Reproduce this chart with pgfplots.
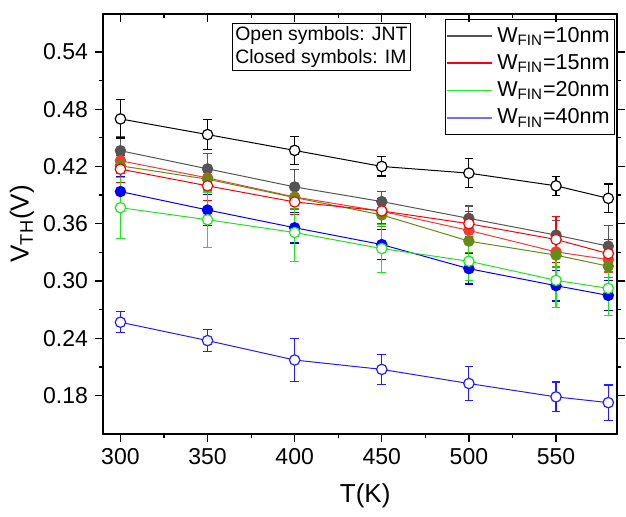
\documentclass[border=0pt]{standalone}
\usepackage{pgfplots}
\pgfplotsset{compat=1.18}
\usepackage{fontspec}
\setmainfont{Liberation Sans}
\definecolor{imgray}{RGB}{85,85,85}
\definecolor{imred}{RGB}{240,60,50}
\definecolor{jgreen}{RGB}{30,230,30}
\definecolor{olive2}{RGB}{100,140,20}
\definecolor{jblue}{RGB}{30,30,255}
\definecolor{lblue}{RGB}{110,110,255}
\definecolor{lgred}{RGB}{255,0,0}
\definecolor{lggreen}{RGB}{40,235,40}
\begin{document}
\begin{tikzpicture}
\pgfplotsset{
  every axis/.append style={
    width=257pt, height=210pt, scale only axis,
    xmin=290, xmax=585, ymin=0.14, ymax=0.58,
  },
  ebars/.style={error bars/y dir=both, error bars/y explicit,
    error bars/error bar style={line width=0.55pt},
    error bars/error mark options={rotate=90, mark size=2.2pt, line width=0.55pt}},
  im/.style={line width=0.5pt, mark=*, mark size=2.6pt, mark options={solid, line width=0.5pt}, ebars},
  jnt/.style={line width=0.5pt, mark=*, mark size=2.6pt, mark options={solid, fill=white, line width=0.6pt}, ebars},
  lgline/.style={legend image code/.code={\draw[draw=#1, line width=0.9pt] (0cm,0cm) -- (0.8cm,0cm);}},
}
\begin{axis}[name=ax,
  axis line style={line width=0.8pt},
  tick align=outside,
  xtick pos=left, ytick pos=both,
  major tick length=4pt, minor tick length=2.2pt,
  every tick/.style={black, line width=0.6pt},
  xtick={300,350,...,550},
  ytick={0.18,0.24,...,0.55},
  minor x tick num=1, minor y tick num=1,
  yticklabel style={/pgf/number format/.cd, fixed, fixed zerofill, precision=2, assume math mode=true},
  xticklabel style={/pgf/number format/assume math mode=true},
  ticklabel style={font=\fontsize{11.5}{13}\selectfont},
  yticklabel pos=left,
  xlabel={T(K)}, ylabel={V\textsubscript{TH}(V)},
  label style={font=\fontsize{13}{15}\selectfont},
  xlabel style={at={(axis description cs:0.51,-0.148)}, anchor=center},
  ylabel style={at={(axis description cs:-0.158,0.5)}, anchor=center},
  legend style={at={(axis description cs:0.996,0.988)}, anchor=north east,
    font=\fontsize{10.8}{13}\selectfont,
    row sep=0.6pt, inner xsep=0.4pt, inner ysep=2pt, cells={anchor=west, inner xsep=0.8pt}},
  legend cell align=left,
]
% IM (closed symbols)
\addplot[im, imgray, forget plot] table[y error=e] {
x y e
300 0.4365 0.015
350 0.4175 0.016
400 0.3986 0.018
450 0.3832 0.011
500 0.3656 0.013
550 0.3481 0.015
580 0.3365 0.022
};
\addplot[im, imred, forget plot] table[y error=e] {
x y e
300 0.4260 0.013
350 0.4080 0.013
400 0.3880 0.013
450 0.3730 0.013
500 0.3530 0.013
550 0.3305 0.016
580 0.3224 0.013
};
\addplot[im, olive2, forget plot] table[y error=e] {
x y e
300 0.4207 0.012
350 0.4066 0.012
400 0.3874 0.012
450 0.3692 0.012
500 0.3418 0.012
550 0.3271 0.012
580 0.3155 0.012
};
\addplot[im, blue, forget plot] table[y error=e] {
x y e
300 0.3937 0.016
350 0.3744 0.016
400 0.3558 0.016
450 0.3382 0.016
500 0.3129 0.016
550 0.2951 0.016
580 0.2849 0.016
};
% JNT (open symbols)
\addplot[jnt, black, forget plot] table[y error=e] {
x y e
300 0.4698 0.020
350 0.4534 0.0155
400 0.4368 0.015
450 0.4200 0.010
500 0.4130 0.015
550 0.3997 0.010
580 0.3866 0.015
};
\addplot[jnt, red, forget plot] table[y error=e] {
x y e
300 0.4172 0.014
350 0.3997 0.015
400 0.3828 0.013
450 0.3734 0.013
500 0.3600 0.013
550 0.3435 0.024
580 0.3287 0.015
};
\addplot[jnt, jgreen, forget plot] table[y error=e] {
x y e
300 0.3768 0.032
350 0.3642 0.029
400 0.3508 0.030
450 0.3340 0.025
500 0.3207 0.020
550 0.3007 0.028
580 0.2923 0.028
};
\addplot[jnt, jblue, forget plot] table[y error=e] {
x y e
300 0.2568 0.011
350 0.2376 0.0116
400 0.2172 0.0225
450 0.2074 0.016
500 0.1926 0.0174
550 0.1786 0.0156
580 0.1726 0.0184
};
\addlegendimage{lgline=imgray}
\addlegendentry{W\textsubscript{FIN}=10nm}
\addlegendimage{lgline=lgred}
\addlegendentry{W\textsubscript{FIN}=15nm}
\addlegendimage{lgline=lggreen}
\addlegendentry{W\textsubscript{FIN}=20nm}
\addlegendimage{lgline=lblue}
\addlegendentry{W\textsubscript{FIN}=40nm}
\node[draw=black, line width=0.5pt, align=left, inner sep=1.6pt, anchor=north west,
  font=\fontsize{9.7}{11.6}\selectfont] at (axis description cs:0.2504,0.9786)
  {Open symbols: JNT\\Closed symbols: IM};
\end{axis}
\begin{axis}[
  axis line style={draw=none},
  tick align=inside,
  xtick pos=right,
  ytick=\empty,
  xtick={300,350,...,550},
  minor x tick num=1,
  major tick length=4pt, minor tick length=2.2pt,
  every tick/.style={black, line width=0.6pt},
  xticklabels={},
]
\end{axis}
\path ([xshift=-51.5pt, yshift=-41.2pt]ax.south west) rectangle ([xshift=4.5pt, yshift=3pt]ax.north east);
\end{tikzpicture}
\end{document}
